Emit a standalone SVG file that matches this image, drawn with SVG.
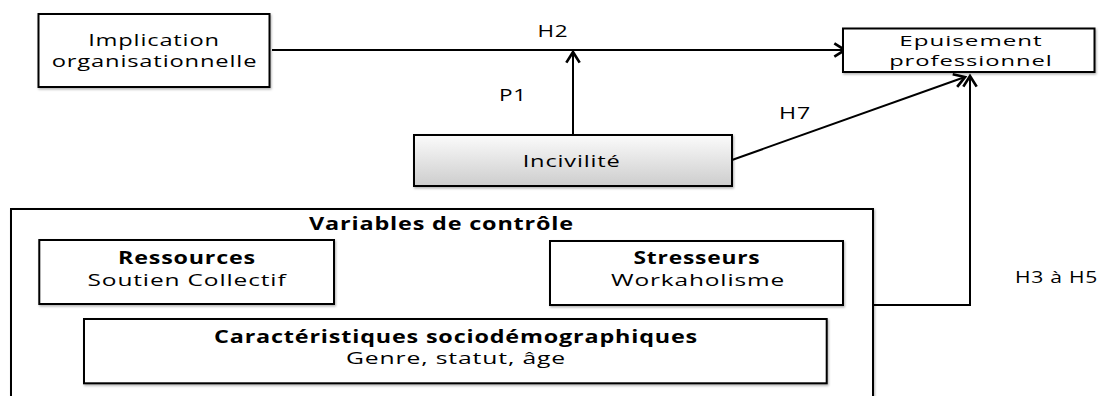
<svg xmlns="http://www.w3.org/2000/svg" width="1101" height="396" viewBox="0 0 1101 396">
<style>
  .box { fill: #ffffff; stroke: #000000; stroke-width: 2; filter: url(#sh); }
  .t { font-family: "Open Sans", "Liberation Sans", sans-serif; font-size: 17px; fill: #000000; text-anchor: middle; letter-spacing: 0.6px; }
  .b { font-weight: bold; }
  .conn { fill: none; stroke: #000000; stroke-width: 2; }
</style>
<defs>
  <filter id="sh" x="-5%" y="-5%" width="115%" height="130%">
    <feDropShadow dx="1" dy="1.5" stdDeviation="1" flood-color="#000000" flood-opacity="0.3"/>
  </filter>
  <linearGradient id="grad" x1="0" y1="0" x2="0" y2="1">
    <stop offset="0" stop-color="#fbfbfb"/>
    <stop offset="1" stop-color="#cdcdcd"/>
  </linearGradient>
  <marker id="arr" markerUnits="userSpaceOnUse" markerWidth="16" markerHeight="16" refX="10" refY="6" orient="auto" viewBox="0 0 12 12">
    <path d="M2,1 L10,6 L2,11" fill="none" stroke="#000000" stroke-width="2"/>
  </marker>
</defs>

<g id="connectors">
  <line class="conn" x1="272" y1="50" x2="845" y2="50" marker-end="url(#arr)"/>
  <line class="conn" x1="573" y1="135" x2="573" y2="52" marker-end="url(#arr)"/>
  <line class="conn" x1="732" y1="160" x2="965" y2="77" marker-end="url(#arr)"/>
  <polyline class="conn" points="873,305 970,305 970,76" marker-end="url(#arr)"/>
  <text class="t" x="553" y="36.5" textLength="31" lengthAdjust="spacingAndGlyphs">H2</text>
  <text class="t" x="513" y="101" textLength="28" lengthAdjust="spacingAndGlyphs">P1</text>
  <text class="t" x="795" y="119" textLength="32" lengthAdjust="spacingAndGlyphs">H7</text>
  <text class="t" x="1056.5" y="283" textLength="83" lengthAdjust="spacingAndGlyphs">H3 à H5</text>
</g>

<g id="implication">
  <rect class="box" x="38.5" y="14" width="231" height="73"/>
  <text class="t" x="154" y="45.7" textLength="131.7" lengthAdjust="spacingAndGlyphs">Implication</text>
  <text class="t" x="154.5" y="66.7" textLength="205.6" lengthAdjust="spacingAndGlyphs">organisationnelle</text>
</g>

<g id="epuisement">
  <rect class="box" x="843" y="28.5" width="251.5" height="43.5"/>
  <text class="t" x="971" y="45.8" textLength="143.4" lengthAdjust="spacingAndGlyphs" style="font-size:14.5px">Epuisement</text>
  <text class="t" x="971" y="65.7" textLength="163.7" lengthAdjust="spacingAndGlyphs" style="font-size:14.5px">professionnel</text>
</g>

<g id="incivilite">
  <rect class="box" x="414" y="135" width="318" height="51" style="fill:url(#grad)"/>
  <text class="t" x="571.7" y="167.3" textLength="98" lengthAdjust="spacingAndGlyphs">Incivilité</text>
</g>

<g id="controle">
  <rect class="box" x="11" y="209" width="862" height="200"/>
  <text class="t b" x="441.5" y="229.5" textLength="265" lengthAdjust="spacingAndGlyphs">Variables de contrôle</text>
</g>

<g id="ressources">
  <rect class="box" x="39.3" y="240" width="294.7" height="64"/>
  <text class="t b" x="187" y="264" textLength="138" lengthAdjust="spacingAndGlyphs">Ressources</text>
  <text class="t" x="187" y="286" textLength="199" lengthAdjust="spacingAndGlyphs">Soutien Collectif</text>
</g>

<g id="stresseurs">
  <rect class="box" x="550" y="241" width="293" height="64"/>
  <text class="t b" x="697" y="264" textLength="127" lengthAdjust="spacingAndGlyphs">Stresseurs</text>
  <text class="t" x="698" y="286" textLength="174" lengthAdjust="spacingAndGlyphs">Workaholisme</text>
</g>

<g id="caracteristiques">
  <rect class="box" x="84" y="319" width="742.7" height="64.3"/>
  <text class="t b" x="456" y="343.3" textLength="484" lengthAdjust="spacingAndGlyphs">Caractéristiques sociodémographiques</text>
  <text class="t" x="456" y="364.3" textLength="220" lengthAdjust="spacingAndGlyphs">Genre, statut, âge</text>
</g>
</svg>
